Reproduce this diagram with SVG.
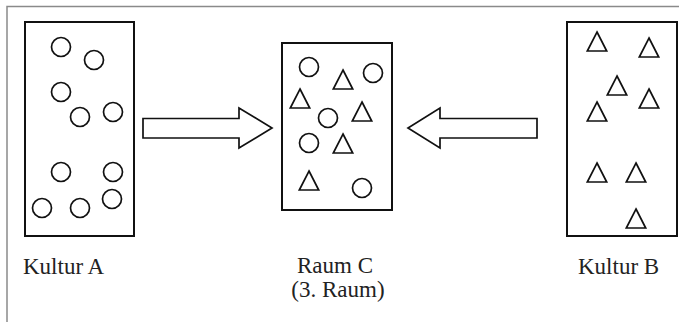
<svg xmlns="http://www.w3.org/2000/svg" width="679" height="322" viewBox="0 0 679 322">
<style>
.frame{stroke:#8a8a8a;stroke-width:1.5;fill:none}
.box{fill:#fff;stroke:#111;stroke-width:2}
.c{fill:none;stroke:#111;stroke-width:1.7}
.t{fill:none;stroke:#111;stroke-width:1.7;stroke-linejoin:miter}
.arrow{fill:#fff;stroke:#111;stroke-width:1.7;stroke-linejoin:miter}
.lbl{font-family:"Liberation Serif","Times New Roman",serif;font-size:23px;fill:#222}
</style>
<defs>
<circle id="circ" r="9.5" class="c"/>
<path id="tri" d="M0,0 L9.7,19 L-9.7,19 Z" class="t"/>
</defs>
<rect width="679" height="322" fill="#fff"/>
<g id="frame">
<path class="frame" d="M7,322 L7,6.5 L679,6.5"/>
</g>
<g id="kulturA">
<rect class="box" x="25" y="22" width="109" height="214"/>
<use href="#circ" x="61" y="47"/>
<use href="#circ" x="94" y="60"/>
<use href="#circ" x="61" y="92"/>
<use href="#circ" x="80" y="117"/>
<use href="#circ" x="113" y="112"/>
<use href="#circ" x="61" y="172"/>
<use href="#circ" x="113" y="172"/>
<use href="#circ" x="42" y="208"/>
<use href="#circ" x="80" y="208"/>
<use href="#circ" x="112" y="199"/>
<text class="lbl" x="23" y="274">Kultur A</text>
</g>
<g id="raumC">
<rect class="box" x="282" y="43" width="110" height="167"/>
<use href="#circ" x="309" y="67"/>
<use href="#circ" x="373" y="73"/>
<use href="#circ" x="328" y="118"/>
<use href="#circ" x="309" y="143"/>
<use href="#circ" x="362" y="188"/>
<use href="#tri" x="343" y="70"/>
<use href="#tri" x="300" y="89"/>
<use href="#tri" x="362" y="102"/>
<use href="#tri" x="343" y="134"/>
<use href="#tri" x="309" y="171"/>
<text class="lbl" x="335" y="273" text-anchor="middle">Raum C</text>
<text class="lbl" x="338" y="297" text-anchor="middle">(3. Raum)</text>
</g>
<g id="kulturB">
<rect class="box" x="567" y="22" width="110" height="214"/>
<use href="#tri" x="597" y="32"/>
<use href="#tri" x="649" y="38"/>
<use href="#tri" x="617" y="76"/>
<use href="#tri" x="649" y="89"/>
<use href="#tri" x="597" y="102"/>
<use href="#tri" x="597" y="163"/>
<use href="#tri" x="636" y="163"/>
<use href="#tri" x="636" y="209"/>
<text class="lbl" x="578" y="274">Kultur B</text>
</g>
<g id="connectors">
<polygon class="arrow" points="143,118.5 239,118.5 239,108 272,128 239,148 239,138 143,138"/>
<polygon class="arrow" points="537,118.5 440,118.5 440,108 408,128 440,148 440,138 537,138"/>
</g>
</svg>
